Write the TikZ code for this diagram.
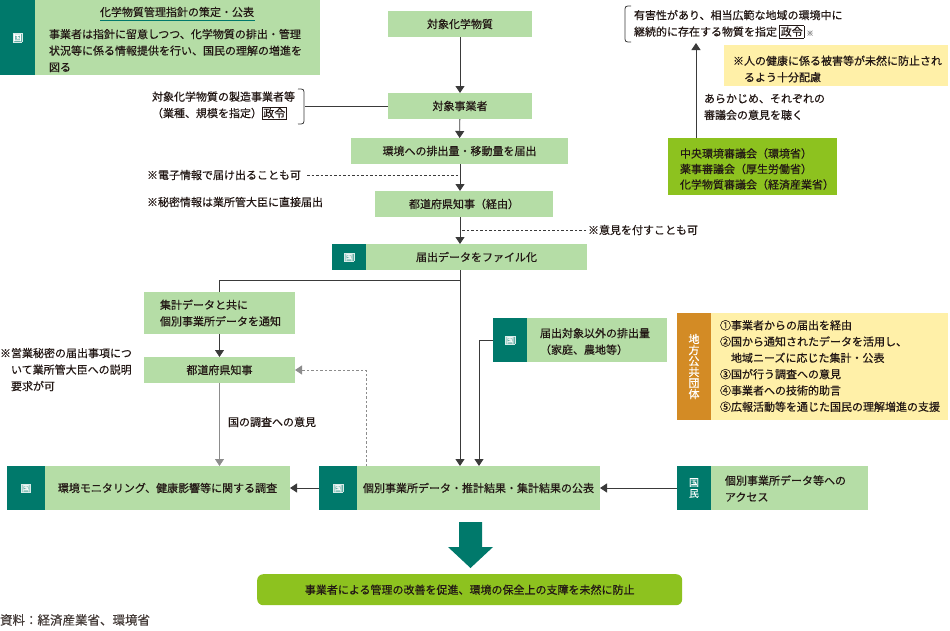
\documentclass[tikz,border=0pt]{standalone}
\usepackage{fontspec}
\setmainfont[FakeBold=0.5]{Noto Sans CJK JP}
\usetikzlibrary{arrows.meta}
\definecolor{lg}{HTML}{B5DDA6}
\definecolor{tl}{HTML}{00796B}
\definecolor{lime}{HTML}{8DC21F}
\definecolor{org}{HTML}{D38B25}
\definecolor{ylw}{HTML}{FFF0A8}
\definecolor{ink}{HTML}{231815}
\definecolor{ln}{HTML}{3A3A3A}
\definecolor{gr}{HTML}{8C8C8C}
\newcommand\seirei{{\setlength{\fboxsep}{0.8pt}\setlength{\fboxrule}{0.5pt}\fbox{政令}}}
\newcommand\kunimark{{\fontsize{8}{8}\selectfont\setlength{\fboxsep}{0.5pt}\setlength{\fboxrule}{0.4pt}\fcolorbox{white!85!tl}{white!40!tl}{\textcolor{white}{国}}}}
\begin{document}
\begin{tikzpicture}[x=1pt,y=-1pt,
  font=\fontsize{11}{16.5}\selectfont, text=ink,
  lbox/.style={fill=lg, inner sep=0pt, outer sep=0pt, anchor=north west},
  tbox/.style={fill=tl, text=white, inner sep=0pt, outer sep=0pt, anchor=north west},
  txt/.style={inner sep=0pt, outer sep=0pt},
  arr/.style={-{Triangle[width=9pt,length=7pt]}, line width=0.8pt, draw=ln},
  garr/.style={-{Triangle[width=9pt,length=7pt]}, line width=0.8pt, draw=gr},
  plain/.style={line width=0.8pt, draw=ln}]
\useasboundingbox (0,0) rectangle (950,630);

% coordinates for connector columns
\coordinate (mx) at (460,0);
\coordinate (gx) at (366,0);
\coordinate (ox) at (479,0);
\coordinate (ctop) at (696,43);
\coordinate (br) at (460,280);
\coordinate (brk) at (305,106);

% top-left guideline box
\node[tbox, minimum width=35pt, minimum height=75pt] (tlT) at (0,0) {\kunimark};
\node[lbox, minimum width=285pt, minimum height=75pt] (tl) at (35,0) {};
\node[txt] (tltitle) at (177,12) {化学物質管理指針の策定・公表};
\draw[tl, line width=1pt] (100,20) -- (255,20);
\node[txt, anchor=north west, align=left] (tlbody) at (49,29) {事業者は指針に留意しつつ、化学物質の排出・管理\\状況等に係る情報提供を行い、国民の理解の増進を\\図る};

% main column
\node[lbox, minimum width=144pt, minimum height=26pt] (subs) at (388,11) {対象化学物質};
\node[lbox, minimum width=144pt, minimum height=26pt] (jig) at (388,93) {対象事業者};
\node[lbox, minimum width=217pt, minimum height=26pt] (todoke) at (351,138) {環境への排出量・移動量を届出};
\node[lbox, minimum width=178pt, minimum height=26pt] (pref1) at (375,191) {都道府県知事（経由）};
\node[tbox, minimum width=34pt, minimum height=26pt] (fileT) at (332,244) {\kunimark};
\node[lbox, minimum width=221pt, minimum height=26pt] (file) at (366,244) {届出データをファイル化};

% left column
\node[lbox, minimum width=151pt, minimum height=42pt] (shukei) at (144,292) {};
\node[txt, anchor=west, align=left] (shukeitxt) at (160,313) {集計データと共に\\個別事業所データを通知};
\node[lbox, minimum width=151pt, minimum height=26pt] (pref2) at (144,357) {都道府県知事};

% bottom row
\node[tbox, minimum width=38pt, minimum height=44pt] (monT) at (7,466) {\kunimark};
\node[lbox, minimum width=245pt, minimum height=44pt] (mon) at (45,466) {環境モニタリング、健康影響等に関する調査};
\node[tbox, minimum width=38pt, minimum height=44pt] (kobT) at (319,466) {\kunimark};
\node[lbox, minimum width=243pt, minimum height=44pt] (kob) at (357,466) {個別事業所データ・推計結果・集計結果の公表};
\node[tbox, minimum width=34pt, minimum height=44pt, align=center, font=\fontsize{10}{11}\selectfont] (kokT) at (677,466) {国\\民};
\node[lbox, minimum width=157pt, minimum height=44pt] (kok) at (711,466) {};
\node[txt, anchor=west, align=left] (koktxt) at (725,488.5) {個別事業所データ等への\\アクセス};

% other emissions
\node[tbox, minimum width=34pt, minimum height=44pt] (othT) at (493,318) {\kunimark};
\node[lbox, minimum width=140pt, minimum height=44pt] (oth) at (527,318) {};
\node[txt, anchor=west, align=left] (othtxt) at (540,341.5) {届出対象以外の排出量\\（家庭、農地等）};

% local governments
\node[tbox, fill=org, minimum width=34pt, minimum height=107pt, align=center, font=\fontsize{11}{11}\selectfont] (chiT) at (677,313) {地\\方\\公\\共\\団\\体};
\node[lbox, fill=ylw, minimum width=237pt, minimum height=107pt] (chi) at (711,313) {};
\node[txt, anchor=west, align=left, font=\fontsize{11}{16.3}\selectfont] (chitxt) at (720,366) {①事業者からの届出を経由\\②国から通知されたデータを活用し、\\\hspace*{11pt}地域ニーズに応じた集計・公表\\③国が行う調査への意見\\④事業者への技術的助言\\⑤広報活動等を通じた国民の理解増進の支援};

% councils (top right)
\node[lbox, fill=lime, minimum width=169pt, minimum height=57pt] (council) at (668,138) {};
\node[txt, anchor=west, align=left, font=\fontsize{11}{15.5}\selectfont] (counciltxt) at (680,169) {中央環境審議会（環境省）\\薬事審議会（厚生労働省）\\化学物質審議会（経済産業省）};
\node[lbox, fill=ylw, minimum width=224pt, minimum height=41pt] (note) at (724,45) {};
\node[txt, anchor=west, align=left] (notetxt) at (733,69) {※人の健康に係る被害等が未然に防止され\\\hspace*{11pt}るよう十分配慮};
\node[txt, anchor=west, align=left] (hazard) at (634,24) {有害性があり、相当広範な地域の環境中に\\継続的に存在する物質を指定 \seirei\ {\fontsize{7}{7}\selectfont\textcolor{gr}{※}}};
\node[txt, anchor=west, align=left] (askcouncil) at (704,107) {あらかじめ、それぞれの\\審議会の意見を聴く};

% final result
\node[fill=lime, rounded corners=6pt, inner sep=0pt, anchor=north west, minimum width=425pt, minimum height=31pt] (final) at (257,574) {事業者による管理の改善を促進、環境の保全上の支障を未然に防止};
\fill[tl] (459,522) -- (482,522) -- (482,547) -- (493,547) -- (470.5,568) -- (448,547) -- (459,547) -- cycle;

% side notes
\node[txt, anchor=west, align=left] (maker) at (152,105.5) {対象化学物質の製造事業者等\\（業種、規模を指定）\seirei};
\node[txt, anchor=west] (n1) at (147,175) {※電子情報で届け出ることも可};
\node[txt, anchor=west] (n2) at (147,202) {※秘密情報は業所管大臣に直接届出};
\node[txt, anchor=west] (n3) at (588,230) {※意見を付すことも可};
\node[txt, anchor=north west, align=left] (n4) at (0,348) {※営業秘密の届出事項につ\\\hspace*{11pt}いて業所管大臣への説明\\\hspace*{11pt}要求が可};
\node[txt, anchor=west] (n5) at (228,422) {国の調査への意見};
\node[txt, anchor=west, font=\fontsize{12.5}{14}\selectfont, text=ink!85] (src) at (0,620) {資料：経済産業省、環境省};

% brackets
\draw[plain] (298,89) .. controls (304,89) .. (304,95) -- (304,118) .. controls (304,124) .. (298,124);
\draw[plain] (631,6) .. controls (625,6) .. (625,12) -- (625,36) .. controls (625,42) .. (631,42);

% connectors
\draw[plain] (brk) -- (jig.west);
\draw[arr] (subs) -- (jig);
\draw[arr] (jig) -- (todoke);
\draw[arr] (mx |- todoke.south) -- (mx |- pref1.north);
\draw[arr] (mx |- pref1.south) -- (mx |- file.north);
\draw[plain, dashed, dash pattern=on 2.5pt off 2pt, line width=0.6pt] ([xshift=6pt]n1.east) -- (n1 -| mx);
\draw[plain, dashed, dash pattern=on 2.5pt off 2pt, line width=0.6pt] ([xshift=-2pt]n3.west) -- (n3 -| mx);
\draw[arr] (mx |- file.south) -- (mx |- kob.north);
\draw[plain] (br) -| (shukei.north);
\draw[arr] (shukei) -- (pref2);
\draw[garr] (pref2.south) -- (pref2.south |- mon.north);
\draw[garr, dash pattern=on 2.5pt off 2pt] (gx |- kob.north) |- (pref2.east);
\draw[arr] (othT.west) -| (ox |- kob.north);
\draw[arr] (kobT.west) -- (mon.east);
\draw[arr] (kokT.west) -- (kob.east);
\draw[arr] (ctop |- council.north) -- (ctop);
\end{tikzpicture}
\end{document}
